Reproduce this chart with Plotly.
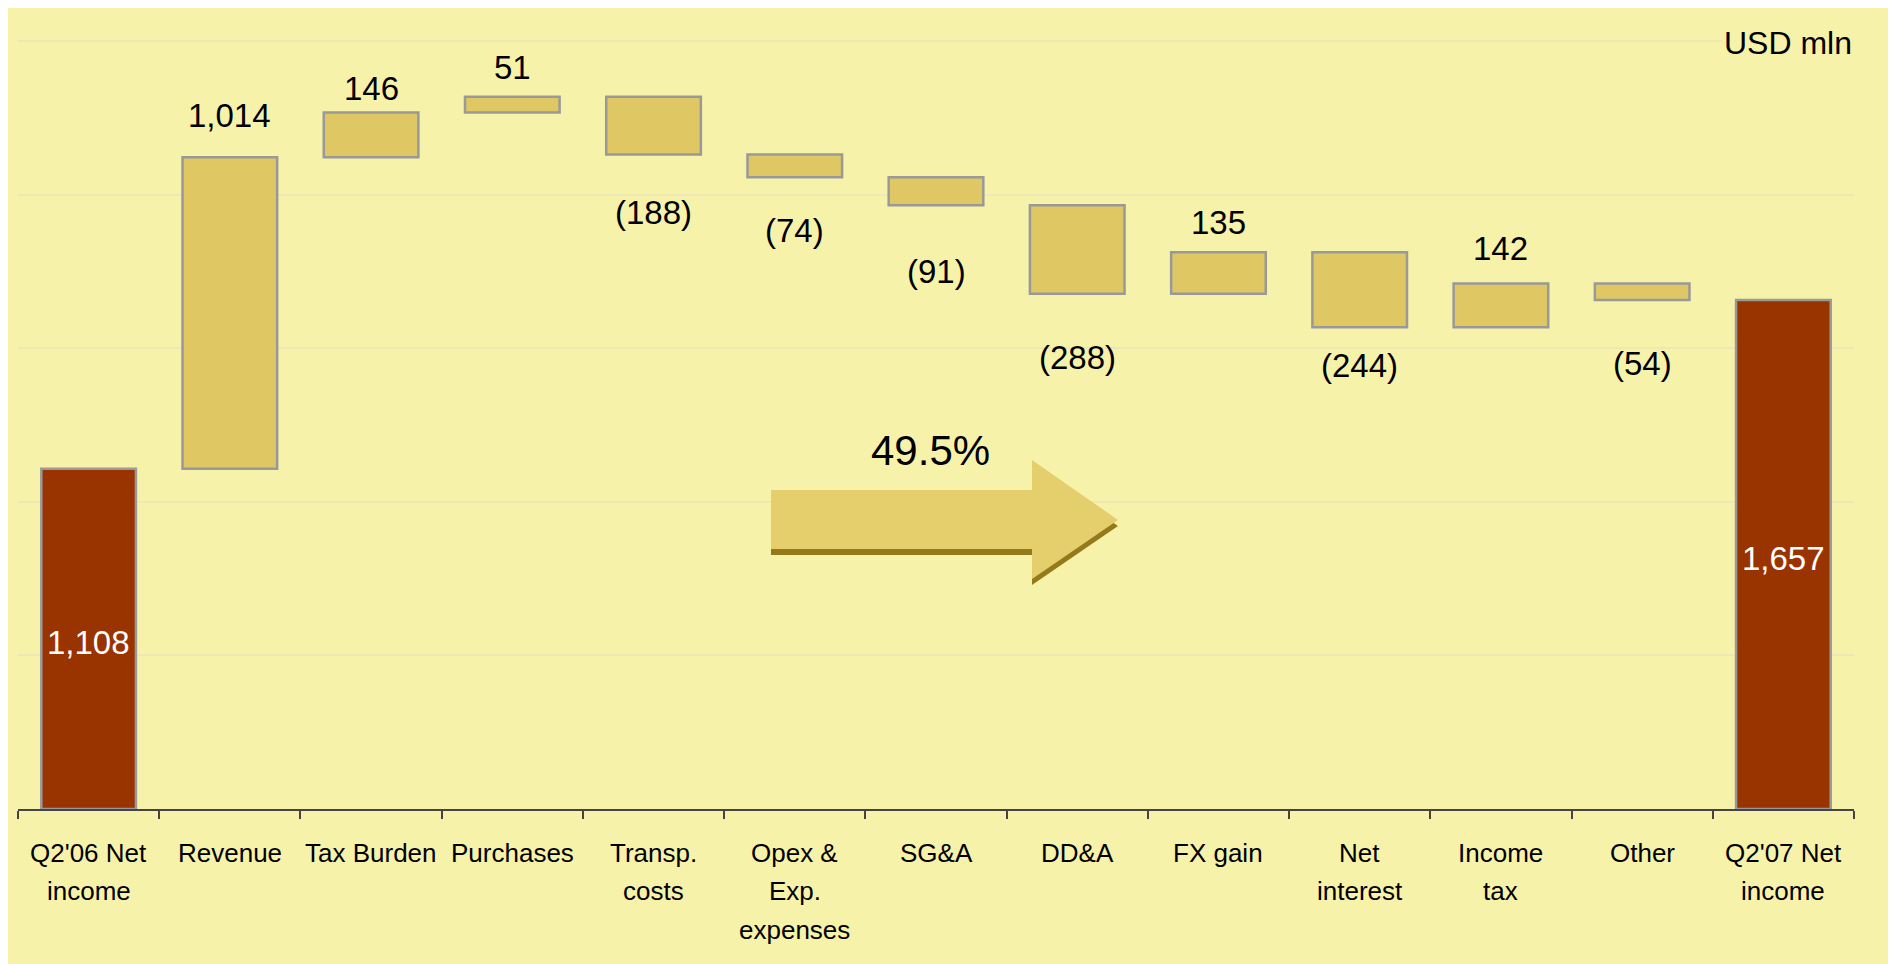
import plotly.graph_objects as go

# ---- data ----
categories = ["Q2'06 Net\nincome", "Revenue", "Tax Burden", "Purchases", "Transp.\ncosts",
              "Opex &\nExp.\nexpenses", "SG&A", "DD&A", "FX gain", "Net\ninterest",
              "Income\ntax", "Other", "Q2'07 Net\nincome"]
values = [1108, 1014, 146, 51, -188, -74, -91, -288, 135, -244, 142, -54, 1657]
measures = ["absolute"] + ["relative"] * 11 + ["total"]
growth_label = "49.5%"
unit_label = "USD mln"

# label offsets (px) from bar edge, per bar
label_offsets = [0, 42, 24, 29, 58, 53, 66, 64, 30, 38, 35, 63, 0]

OFF = 8                      # page body margin
W, H = 1896 - OFF, 964 - OFF
YMAX = 2504                  # a little headroom so the 2500 gridline is drawn
L, R, T, B = 18 - OFF, 42, 41 - OFF - 1, 155

BG = "#F7F2AA"
BAR = "#DFC764"
TOT = "#993300"
EDGE = "#999999"
FONT = "Liberation Sans"

cat_keys = [c.replace("\n", " ") for c in categories]

fig = go.Figure(go.Waterfall(
    x=cat_keys,
    y=values,
    measure=measures,
    width=0.67,
    increasing=dict(marker=dict(color=BAR, line=dict(color=EDGE, width=2.5))),
    decreasing=dict(marker=dict(color=BAR, line=dict(color=EDGE, width=2.5))),
    totals=dict(marker=dict(color=TOT, line=dict(color=EDGE, width=2.5))),
    connector=dict(visible=False),
    textposition="none",
    hoverinfo="skip",
))

NUM = 33
annotations = []
running = 0
for i, (v, m) in enumerate(zip(values, measures)):
    k = cat_keys[i]
    if m == "absolute":
        running = v
        annotations.append(dict(x=k, y=v / 2, text=f"{v:,}", showarrow=False,
                                font=dict(color="white", size=NUM, family=FONT), yshift=-4))
    elif m == "total":
        annotations.append(dict(x=k, y=running / 2, text=f"{running:,}", showarrow=False,
                                font=dict(color="white", size=NUM, family=FONT), yshift=-4))
    else:
        running += v
        if v >= 0:
            annotations.append(dict(x=k, y=running, text=f"{v:,}", showarrow=False,
                                    font=dict(color="black", size=NUM, family=FONT),
                                    yshift=label_offsets[i]))
        else:
            annotations.append(dict(x=k, y=running, text=f"({-v:,})", showarrow=False,
                                    font=dict(color="black", size=NUM, family=FONT),
                                    yshift=-label_offsets[i]))

# category labels (multi-line, wider line spacing)
LINE_SHIFTS = [-43.5, -82, -120.5]
for c, k in zip(categories, cat_keys):
    for j, line in enumerate(c.split("\n")):
        annotations.append(dict(x=k, xref="x", yref="paper", y=0, yanchor="middle",
                                yshift=LINE_SHIFTS[j], text=line, showarrow=False,
                                font=dict(size=26, family=FONT, color="black")))

PW = W - L - R
PH = H - T - B


def px2paper(px, py):
    """page pixel coords -> paper coords"""
    fx, fy = px - OFF, py - OFF
    return (fx - L) / PW, (H - B - fy) / PH


annotations.append(dict(xref="paper", yref="paper", x=1, y=px2paper(0, 43)[1],
                        xanchor="right", yanchor="middle", text=unit_label, showarrow=False,
                        bgcolor=BG, font=dict(size=32, color="black", family=FONT)))
gx, gy = px2paper(930, 450)
annotations.append(dict(xref="paper", yref="paper", x=gx, y=gy, xanchor="center", yanchor="middle",
                        text=growth_label, showarrow=False,
                        font=dict(size=42, color="black", family=FONT)))


def arrow_path(dy=0):
    pts = [(771, 490), (1032, 490), (1032, 460), (1118, 520), (1032, 579), (1032, 549), (771, 549)]
    s = []
    for n, (px, py) in enumerate(pts):
        a, b = px2paper(px, py + dy)
        s.append(("M" if n == 0 else "L") + f"{a:.5f},{b:.5f}")
    return " ".join(s) + " Z"


shapes = [
    dict(type="path", xref="paper", yref="paper", path=arrow_path(6), fillcolor="#957A1C",
         line=dict(width=0), layer="above"),
    dict(type="path", xref="paper", yref="paper", path=arrow_path(0), fillcolor="#E5CE6C",
         line=dict(width=0), layer="above"),
]

fig.update_layout(
    width=W, height=H,
    margin=dict(l=L, r=R, t=T, b=B),
    paper_bgcolor=BG,
    plot_bgcolor=BG,
    showlegend=False,
    annotations=annotations,
    shapes=shapes,
    font=dict(family=FONT, size=24, color="black"),
    xaxis=dict(
        type="category", categoryorder="array", categoryarray=cat_keys,
        showticklabels=False,
        showline=True, linecolor="#444444", linewidth=2,
        ticks="outside", tickson="boundaries", ticklen=8, tickcolor="#444444", tickwidth=1.5,
        showgrid=False, zeroline=False,
        fixedrange=True,
    ),
    yaxis=dict(
        range=[0, YMAX], tick0=0, dtick=500, showgrid=True, gridcolor="#EEE9B4", gridwidth=1.5,
        showticklabels=False, zeroline=False, showline=False, fixedrange=True,
    ),
)

fig.write_html("out.html")
